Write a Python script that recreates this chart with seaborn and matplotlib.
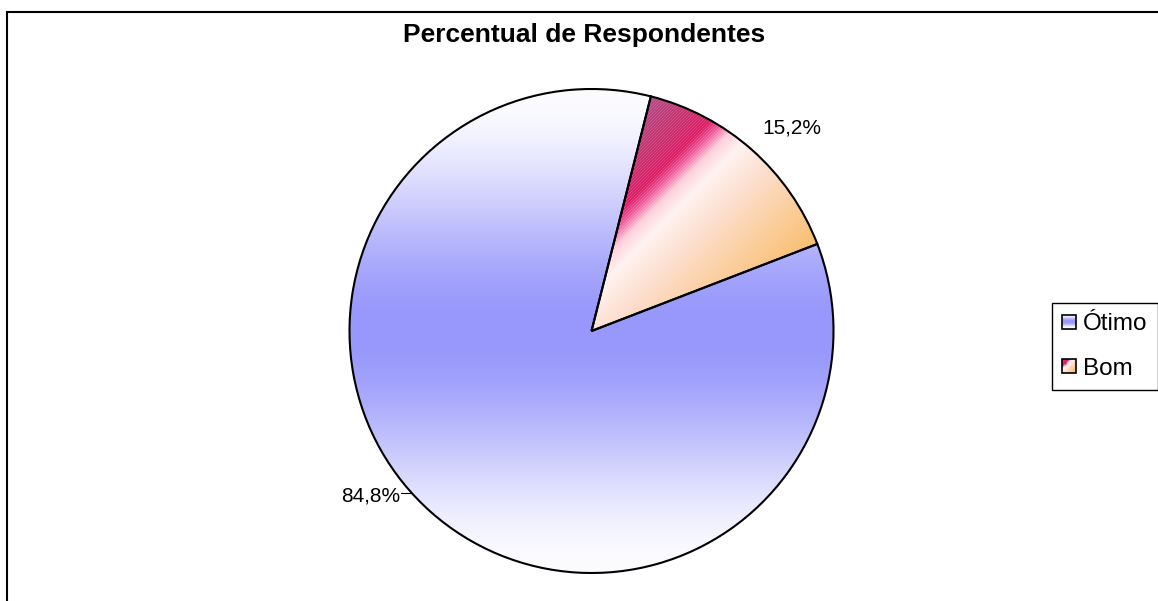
import numpy as np
import matplotlib
matplotlib.use('Agg')
import matplotlib.pyplot as plt
import seaborn as sns
from matplotlib.patches import Rectangle
from matplotlib.colors import to_rgb
from matplotlib.legend_handler import HandlerBase

# ---- data ----
categories = ['Ótimo', 'Bom']
values = [84.8, 15.2]
value_labels = ['84,8%', '15,2%']
title = 'Percentual de Respondentes'

sns.set_theme(style='white')
plt.rcParams['font.family'] = ['Liberation Sans', 'DejaVu Sans']
plt.rcParams['text.color'] = 'black'

W, H = 1158, 601
fig = plt.figure(figsize=(W / 100, H / 100), dpi=100)
ax = fig.add_axes([0, 0, 1, 1])

cx, cy_s, R = 591.5, 331, 242
cy = H - cy_s
start = 75.8

wedges, _ = ax.pie(values, startangle=start, counterclock=True,
                   center=(cx, cy), radius=R, colors=['none', 'none'],
                   wedgeprops=dict(edgecolor='black', linewidth=1.5))

# ---- gradient fills ----
blue_white = np.array(to_rgb('#FCFCFF'))
blue_mid = np.array(to_rgb('#9797FC'))

bom_s = [745, 800, 830, 845, 862, 885, 935, 1000, 1075]
bom_c = ['#B24C88', '#C8306E', '#DC1E64', '#F060A0', '#FFD0DC',
         '#FFF2F0', '#FDDCCB', '#FBCB95', '#F8B65A']
bom_rgb = np.array([to_rgb(c) for c in bom_c])


def blue_grad(t):
    t = np.clip(np.asarray(t, dtype=float), 0, 1)
    t = 3 * t ** 2 - 2 * t ** 3
    t = t[..., None]
    return blue_white * (1 - t) + blue_mid * t


def bom_grad(s):
    s = np.asarray(s, dtype=float)
    return np.stack([np.interp(s, bom_s, bom_rgb[:, k]) for k in range(3)], axis=-1)


yy, xx = np.mgrid[0:H, 0:W]
t1 = 1 - np.abs(yy + 0.5 - cy_s) / R
img1 = blue_grad(t1)
im1 = ax.imshow(img1, extent=(0, W, 0, H), origin='upper', zorder=0,
                interpolation='nearest')
im1.set_clip_path(wedges[0])

s2 = xx + yy
img2 = bom_grad(s2)
stripe = (s2 % 3 == 0)[..., None]
img2 = np.where(stripe, img2 * 0.85 + 0.15, img2)
im2 = ax.imshow(img2, extent=(0, W, 0, H), origin='upper', zorder=0,
                interpolation='nearest')
im2.set_clip_path(wedges[1])

ax.set_xlim(0, W)
ax.set_ylim(0, H)
ax.set_aspect('auto')
ax.axis('off')

# ---- labels ----
ax.text(792, H - 133, value_labels[1], ha='center', va='baseline', fontsize=15)
ax.text(400, H - 501, value_labels[0], ha='right', va='baseline', fontsize=15)
ly = 493
lx_edge = cx - np.sqrt(R ** 2 - (ly - cy_s) ** 2)
ax.plot([401, lx_edge], [H - ly, H - ly], color='black', lw=0.8)

fig.text(584 / W, 1 - 42 / H, title, ha='center', va='baseline',
         fontsize=19, fontweight='bold')


# ---- legend ----
class GradHandler(HandlerBase):
    def __init__(self, func):
        super().__init__()
        self.func = func

    def create_artists(self, legend, orig_handle, xdescent, ydescent,
                       width, height, fontsize, trans):
        arts = []
        n = 12
        x0, y0 = -xdescent, -ydescent
        for i in range(n):
            for j in range(n):
                u, v = (i + 0.5) / n, (j + 0.5) / n
                c = self.func(u, v)
                arts.append(Rectangle((x0 + i * width / n, y0 + height - (j + 1) * height / n),
                                      width / n * 1.02, height / n * 1.02,
                                      facecolor=c, edgecolor='none', transform=trans))
        arts.append(Rectangle((x0, y0), width, height, fill=False,
                              edgecolor='black', lw=1.2, transform=trans))
        return arts


def f_otimo(u, v):
    return blue_grad(1 - abs(v - 0.5) * 2)


def f_bom(u, v):
    return bom_grad(bom_s[0] + (u + v) / 2 * (bom_s[-1] - bom_s[0]))


h1, h2 = Rectangle((0, 0), 1, 1), Rectangle((0, 0), 1, 1)
leg = ax.legend([h1, h2], categories,
                handler_map={h1: GradHandler(f_otimo), h2: GradHandler(f_bom)},
                loc='upper left', bbox_to_anchor=(1052 / W, 1 - 303 / H),
                bbox_transform=fig.transFigure, frameon=True, fancybox=False,
                framealpha=1, edgecolor='black', fontsize=17.5,
                handlelength=0.55, handleheight=0.5, handletextpad=0.3,
                borderpad=0.42, labelspacing=0.92, borderaxespad=0)
leg.get_frame().set_linewidth(1.0)

# ---- outer frame ----
fig.add_artist(Rectangle((7.5 / W, -0.1), 2, 1 - 11.5 / H + 0.1,
                         transform=fig.transFigure, fill=False,
                         edgecolor='black', lw=1.5))

fig.savefig('out.png', dpi=100)
